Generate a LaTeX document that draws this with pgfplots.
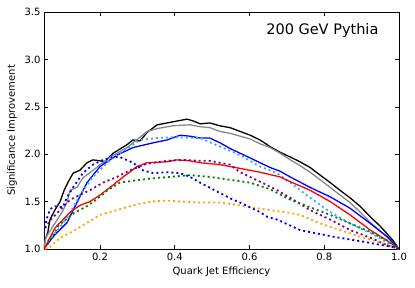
\documentclass[border=0pt]{standalone}
\usepackage{fontspec}
\setmainfont{DejaVu Sans}
\usepackage{pgfplots}
\pgfplotsset{compat=1.18}
\definecolor{mgray}{HTML}{888888}
\definecolor{mlblue}{HTML}{33AAFF}
\definecolor{mpurple}{HTML}{800080}
\definecolor{mgreen}{HTML}{007F00}
\definecolor{morange}{HTML}{FFA500}
\begin{document}
\begin{tikzpicture}
\begin{axis}[
  at={(0,0)}, anchor=south west,
  scale only axis, width=355pt, height=237pt,
  xmin=0.05, xmax=1.0, ymin=1.0, ymax=3.5,
  xtick={0.2,0.4,0.6,0.8,1.0},
  ytick={1.0,1.5,2.0,2.5,3.0,3.5},
  tick align=inside, major tick length=4pt,
  tick style={black, line width=0.6pt},
  axis line style={line width=0.8pt},
  xticklabel style={font=\fontsize{10}{12}\selectfont, yshift=-1pt},
  yticklabel style={font=\fontsize{10}{12}\selectfont},
  /pgf/number format/assume math mode=true,
  /pgf/number format/.cd, fixed, fixed zerofill, precision=1, /pgfplots/.cd,
  xlabel={Quark Jet Efficiency},
  ylabel={Significance Improvement},
  label style={font=\fontsize{10}{12}\selectfont},
  xlabel style={at={(axis description cs:0.5,-0.097)}, anchor=center},
  ylabel style={at={(axis description cs:-0.09,0.5)}, anchor=center},
  clip=true,
]
% black solid
\addplot[black, line width=1.3pt] coordinates {
(0.05,1.00)(0.053,1.10)(0.060,1.17)(0.066,1.31)(0.079,1.41)(0.093,1.50)(0.104,1.62)(0.115,1.71)(0.128,1.80)(0.146,1.83)(0.165,1.91)(0.181,1.94)(0.20,1.93)(0.212,1.92)(0.235,2.01)(0.272,2.10)(0.288,2.15)(0.307,2.14)(0.326,2.23)(0.353,2.31)(0.38,2.33)(0.406,2.35)(0.433,2.37)(0.450,2.35)(0.468,2.32)(0.494,2.33)(0.52,2.30)(0.548,2.28)(0.575,2.24)(0.602,2.20)(0.628,2.15)(0.655,2.08)(0.682,2.02)(0.709,1.97)(0.735,1.92)(0.762,1.86)(0.789,1.78)(0.816,1.70)(0.842,1.62)(0.869,1.54)(0.896,1.45)(0.923,1.34)(0.950,1.24)(0.968,1.16)(0.984,1.09)(0.998,1.01)(1.0,1.0)};
% gray solid
\addplot[mgray, line width=1.3pt] coordinates {
(0.05,1.02)(0.055,1.12)(0.079,1.27)(0.10,1.40)(0.112,1.50)(0.12,1.62)(0.138,1.65)(0.154,1.75)(0.181,1.83)(0.227,1.97)(0.272,2.07)(0.288,2.12)(0.326,2.24)(0.353,2.27)(0.395,2.30)(0.441,2.31)(0.468,2.29)(0.494,2.28)(0.521,2.24)(0.548,2.22)(0.575,2.19)(0.602,2.16)(0.628,2.11)(0.655,2.07)(0.682,2.01)(0.709,1.94)(0.735,1.88)(0.762,1.81)(0.789,1.73)(0.816,1.65)(0.842,1.57)(0.869,1.49)(0.896,1.39)(0.923,1.28)(0.950,1.19)(0.968,1.13)(0.984,1.07)(1.0,1.0)};
% blue solid
\addplot[blue, line width=1.3pt] coordinates {
(0.05,1.00)(0.053,1.02)(0.079,1.15)(0.112,1.28)(0.138,1.49)(0.165,1.70)(0.2,1.87)(0.245,1.99)(0.288,2.07)(0.342,2.12)(0.379,2.15)(0.414,2.20)(0.441,2.19)(0.468,2.17)(0.494,2.17)(0.521,2.12)(0.548,2.06)(0.575,2.01)(0.602,1.96)(0.628,1.91)(0.655,1.86)(0.682,1.82)(0.709,1.76)(0.762,1.65)(0.816,1.55)(0.869,1.43)(0.923,1.27)(0.968,1.13)(1.0,1.0)};
% light blue dotted
\addplot[mlblue, line width=1.8pt, dash pattern=on 2pt off 3pt] coordinates {
(0.06,1.08)(0.093,1.23)(0.12,1.38)(0.146,1.57)(0.181,1.76)(0.227,1.94)(0.272,2.06)(0.307,2.15)(0.35,2.17)(0.40,2.18)(0.468,2.17)(0.521,2.08)(0.575,1.99)(0.628,1.87)(0.674,1.80)(0.709,1.70)(0.762,1.54)(0.816,1.39)(0.869,1.27)(0.923,1.17)(0.968,1.07)(1.0,1.0)};
% red solid
\addplot[red, line width=1.3pt] coordinates {
(0.05,1.00)(0.053,1.02)(0.079,1.22)(0.101,1.31)(0.12,1.39)(0.146,1.46)(0.173,1.50)(0.2,1.57)(0.227,1.65)(0.262,1.76)(0.299,1.87)(0.326,1.91)(0.379,1.92)(0.406,1.94)(0.441,1.93)(0.468,1.91)(0.521,1.89)(0.575,1.85)(0.628,1.81)(0.682,1.76)(0.709,1.71)(0.762,1.62)(0.816,1.50)(0.869,1.36)(0.923,1.20)(0.968,1.09)(1.0,1.0)};
% purple dotted
\addplot[mpurple, line width=1.8pt, dash pattern=on 2pt off 3pt] coordinates {
(0.053,1.22)(0.066,1.30)(0.09,1.40)(0.12,1.52)(0.146,1.57)(0.173,1.62)(0.208,1.70)(0.245,1.76)(0.28,1.83)(0.326,1.90)(0.379,1.93)(0.422,1.94)(0.468,1.93)(0.494,1.93)(0.548,1.89)(0.575,1.81)(0.628,1.71)(0.674,1.62)(0.709,1.54)(0.762,1.41)(0.816,1.31)(0.869,1.20)(0.923,1.12)(0.968,1.04)(1.0,1.0)};
% green dotted
\addplot[mgreen, line width=1.8pt, dash pattern=on 2pt off 3pt] coordinates {
(0.06,1.05)(0.09,1.25)(0.13,1.38)(0.16,1.44)(0.19,1.52)(0.22,1.62)(0.253,1.70)(0.307,1.73)(0.353,1.75)(0.387,1.76)(0.441,1.78)(0.494,1.76)(0.548,1.73)(0.602,1.70)(0.655,1.63)(0.709,1.52)(0.762,1.44)(0.816,1.36)(0.869,1.27)(0.923,1.18)(0.968,1.09)(1.0,1.0)};
% orange dotted
\addplot[morange, line width=1.8pt, dash pattern=on 2pt off 3pt] coordinates {
(0.053,1.0)(0.066,1.02)(0.093,1.12)(0.12,1.17)(0.154,1.25)(0.2,1.36)(0.245,1.41)(0.288,1.46)(0.334,1.50)(0.379,1.51)(0.422,1.50)(0.468,1.49)(0.521,1.49)(0.575,1.46)(0.602,1.44)(0.655,1.41)(0.709,1.38)(0.735,1.36)(0.789,1.27)(0.842,1.20)(0.896,1.13)(0.95,1.07)(1.0,1.0)};
% blue dotted
\addplot[blue, line width=1.8pt, dash pattern=on 2pt off 3pt] coordinates {
(0.05,1.17)(0.056,1.30)(0.066,1.42)(0.08,1.45)(0.10,1.44)(0.112,1.55)(0.128,1.65)(0.154,1.80)(0.181,1.89)(0.208,1.94)(0.235,1.97)(0.253,1.97)(0.288,1.91)(0.315,1.83)(0.342,1.80)(0.379,1.81)(0.414,1.80)(0.441,1.76)(0.468,1.70)(0.521,1.59)(0.556,1.52)(0.575,1.49)(0.628,1.39)(0.647,1.34)(0.674,1.31)(0.735,1.20)(0.824,1.13)(0.915,1.07)(0.984,1.02)(1.0,1.0)};
\node[anchor=east, font=\fontsize{14.5}{17}\selectfont] at (rel axis cs:0.952,0.924) {200 GeV Pythia};
\end{axis}
\pgfresetboundingbox
\path[use as bounding box] (-44pt,-38pt) rectangle (371pt,249pt);
\end{tikzpicture}
\end{document}
